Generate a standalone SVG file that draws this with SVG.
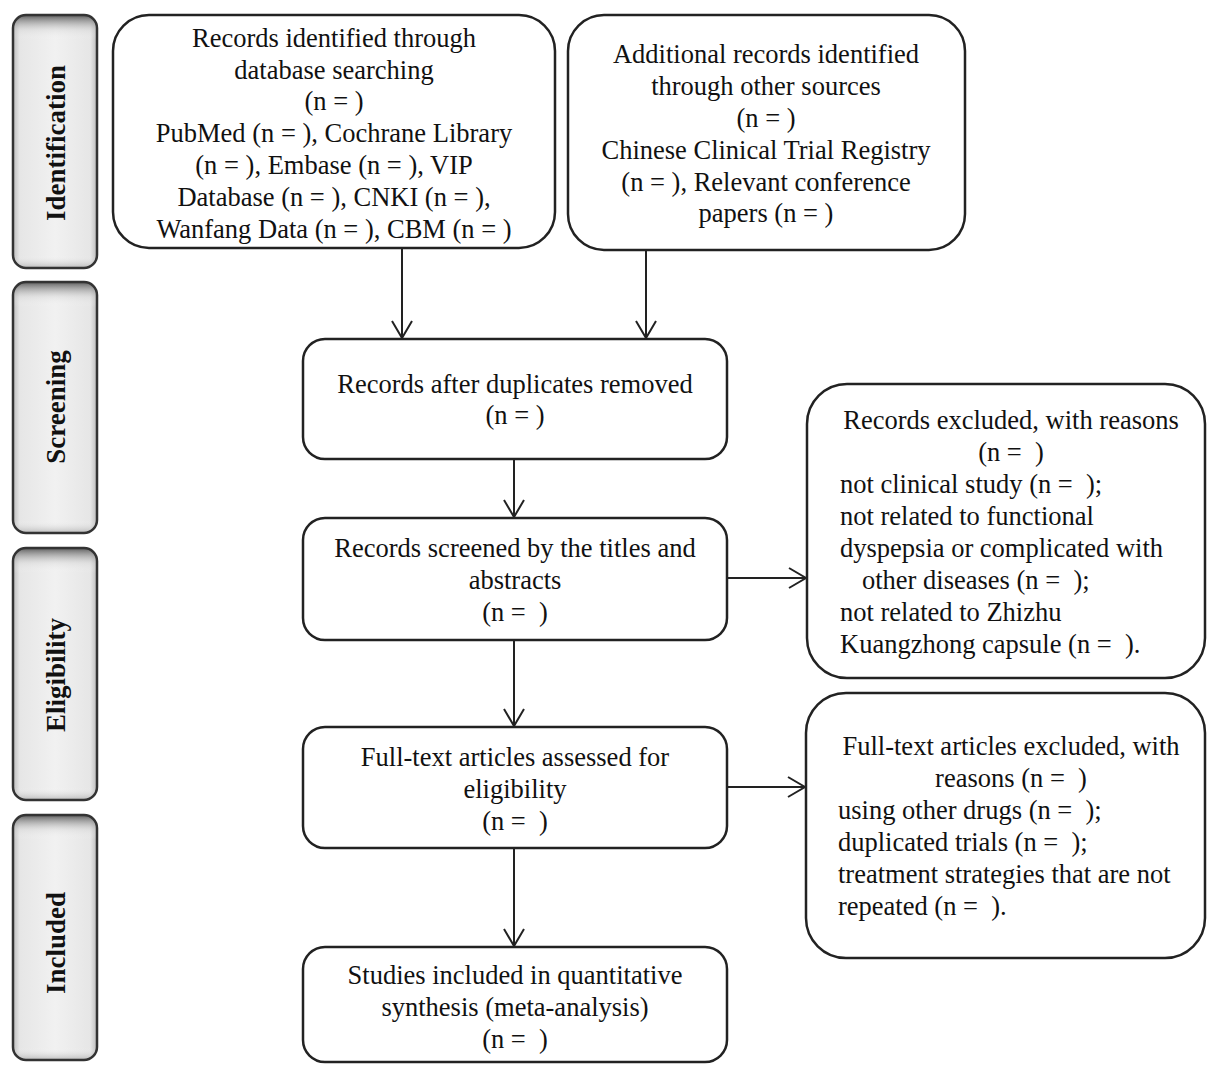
<svg xmlns="http://www.w3.org/2000/svg" width="1207" height="1065" viewBox="0 0 1207 1065">
<style>
.box{fill:#ffffff;stroke:#222;stroke-width:2.5}
.lab{stroke:#333;stroke-width:2.5;fill:none}
.t{font-family:"Liberation Serif","Times New Roman",serif;font-size:26.5px;fill:#111;white-space:pre}
.c{text-anchor:middle}
.ph{font-family:"Liberation Serif","Times New Roman",serif;font-size:27px;font-weight:bold;fill:#111;text-anchor:middle}
.con{stroke:#222;stroke-width:2;fill:none;marker-end:url(#arr)}
</style>
<defs>
<linearGradient id="gH" x1="0" y1="0" x2="1" y2="0">
<stop offset="0" stop-color="#bdbdbd"/>
<stop offset="0.08" stop-color="#e6e6e6"/>
<stop offset="0.5" stop-color="#f1f1f1"/>
<stop offset="0.92" stop-color="#e6e6e6"/>
<stop offset="1" stop-color="#bdbdbd"/>
</linearGradient>
<linearGradient id="gV" x1="0" y1="0" x2="0" y2="1">
<stop offset="0" stop-color="#444" stop-opacity="0.85"/>
<stop offset="0.06" stop-color="#cccccc" stop-opacity="0.3"/>
<stop offset="0.1" stop-color="#ffffff" stop-opacity="0"/>
<stop offset="0.95" stop-color="#ffffff" stop-opacity="0"/>
<stop offset="1" stop-color="#888" stop-opacity="0.5"/>
</linearGradient>
<marker id="arr" markerUnits="userSpaceOnUse" markerWidth="40" markerHeight="40" refX="0" refY="0" orient="auto" overflow="visible">
<path d="M-17,-10 L0,0 L-17,10" fill="none" stroke="#222" stroke-width="2"/>
</marker>
</defs>

<g id="phase-identification">
<rect x="13" y="15" width="84" height="253" rx="13" fill="url(#gH)"/>
<rect x="13" y="15" width="84" height="253" rx="13" fill="url(#gV)"/>
<rect class="lab" x="13" y="15" width="84" height="253" rx="13"/>
<text class="ph" transform="translate(65,143) rotate(-90)">Identification</text>
</g>
<g id="phase-screening">
<rect x="13" y="282" width="84" height="251" rx="13" fill="url(#gH)"/>
<rect x="13" y="282" width="84" height="251" rx="13" fill="url(#gV)"/>
<rect class="lab" x="13" y="282" width="84" height="251" rx="13"/>
<text class="ph" transform="translate(65,407) rotate(-90)">Screening</text>
</g>
<g id="phase-eligibility">
<rect x="13" y="548" width="84" height="252" rx="13" fill="url(#gH)"/>
<rect x="13" y="548" width="84" height="252" rx="13" fill="url(#gV)"/>
<rect class="lab" x="13" y="548" width="84" height="252" rx="13"/>
<text class="ph" transform="translate(65,675) rotate(-90)">Eligibility</text>
</g>
<g id="phase-included">
<rect x="13" y="815" width="84" height="245" rx="13" fill="url(#gH)"/>
<rect x="13" y="815" width="84" height="245" rx="13" fill="url(#gV)"/>
<rect class="lab" x="13" y="815" width="84" height="245" rx="13"/>
<text class="ph" transform="translate(65,943) rotate(-90)">Included</text>
</g>

<g id="connectors">
<line class="con" x1="402" y1="249" x2="402" y2="338"/>
<line class="con" x1="646" y1="251" x2="646" y2="338"/>
<line class="con" x1="514" y1="460" x2="514" y2="517"/>
<line class="con" x1="728" y1="578" x2="806" y2="578"/>
<line class="con" x1="514" y1="641" x2="514" y2="726"/>
<line class="con" x1="728" y1="787" x2="805" y2="787"/>
<line class="con" x1="514" y1="849" x2="514" y2="946"/>
</g>

<g id="node-database">
<rect class="box" x="113" y="15" width="442" height="233" rx="36"/>
<text class="t c" x="334" y="47">Records identified through</text>
<text class="t c" x="334" y="79">database searching</text>
<text class="t c" x="334" y="110">(n = )</text>
<text class="t c" x="334" y="142">PubMed (n = ), Cochrane Library</text>
<text class="t c" x="334" y="174">(n = ), Embase (n = ), VIP</text>
<text class="t c" x="334" y="206">Database (n = ), CNKI (n = ),</text>
<text class="t c" x="334" y="238">Wanfang Data (n = ), CBM (n = )</text>
</g>

<g id="node-other-sources">
<rect class="box" x="568" y="15" width="397" height="235" rx="36"/>
<text class="t c" x="766" y="63">Additional records identified</text>
<text class="t c" x="766" y="95">through other sources</text>
<text class="t c" x="766" y="127">(n = )</text>
<text class="t c" x="766" y="159">Chinese Clinical Trial Registry</text>
<text class="t c" x="766" y="191">(n = ), Relevant conference</text>
<text class="t c" x="766" y="222">papers (n = )</text>
</g>

<g id="node-duplicates">
<rect class="box" x="303" y="339" width="424" height="120" rx="22"/>
<text class="t c" x="515" y="393">Records after duplicates removed</text>
<text class="t c" x="515" y="424">(n = )</text>
</g>

<g id="node-screened">
<rect class="box" x="303" y="518" width="424" height="122" rx="22"/>
<text class="t c" x="515" y="557">Records screened by the titles and</text>
<text class="t c" x="515" y="589">abstracts</text>
<text class="t c" x="515" y="621">(n =  )</text>
</g>

<g id="node-fulltext">
<rect class="box" x="303" y="727" width="424" height="121" rx="22"/>
<text class="t c" x="515" y="766">Full-text articles assessed for</text>
<text class="t c" x="515" y="798">eligibility</text>
<text class="t c" x="515" y="830">(n =  )</text>
</g>

<g id="node-included">
<rect class="box" x="303" y="947" width="424" height="115" rx="22"/>
<text class="t c" x="515" y="984">Studies included in quantitative</text>
<text class="t c" x="515" y="1016">synthesis (meta-analysis)</text>
<text class="t c" x="515" y="1048">(n =  )</text>
</g>

<g id="node-records-excluded">
<rect class="box" x="807" y="384" width="398" height="294" rx="40"/>
<text class="t c" x="1011" y="429">Records excluded, with reasons</text>
<text class="t c" x="1011" y="461">(n =  )</text>
<text class="t" x="840" y="493">not clinical study (n =  );</text>
<text class="t" x="840" y="525">not related to functional</text>
<text class="t" x="840" y="557">dyspepsia or complicated with</text>
<text class="t" x="862" y="589">other diseases (n =  );</text>
<text class="t" x="840" y="621">not related to Zhizhu</text>
<text class="t" x="840" y="653">Kuangzhong capsule (n =  ).</text>
</g>

<g id="node-fulltext-excluded">
<rect class="box" x="806" y="693" width="399" height="265" rx="40"/>
<text class="t c" x="1011" y="755">Full-text articles excluded, with</text>
<text class="t c" x="1011" y="787">reasons (n =  )</text>
<text class="t" x="838" y="819">using other drugs (n =  );</text>
<text class="t" x="838" y="851">duplicated trials (n =  );</text>
<text class="t" x="838" y="883">treatment strategies that are not</text>
<text class="t" x="838" y="915">repeated (n =  ).</text>
</g>
</svg>
